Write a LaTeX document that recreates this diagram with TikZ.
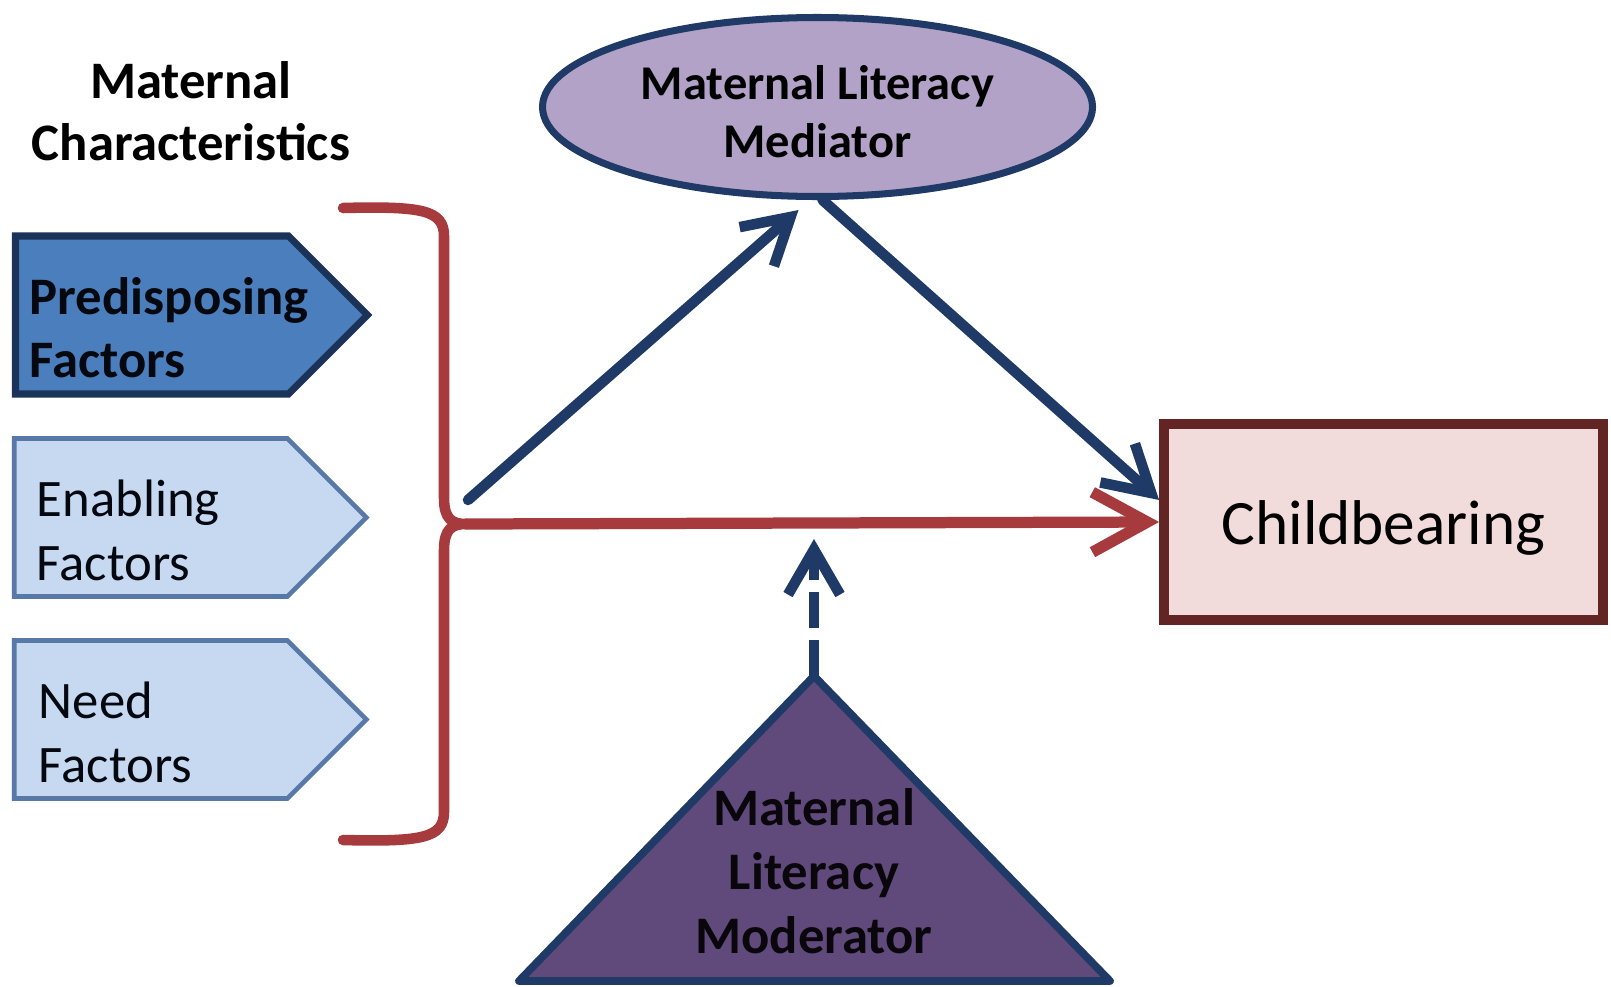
\documentclass[tikz,border=0pt]{standalone}
\usepackage{fontspec}
\setmainfont{Carlito}
\usetikzlibrary{shapes.symbols,shapes.geometric,arrows.meta}
\definecolor{navy}{HTML}{1F3A66}
\definecolor{predblue}{HTML}{4A7EBC}
\definecolor{predline}{HTML}{1B3358}
\definecolor{factblue}{HTML}{C6D9F1}
\definecolor{factline}{HTML}{5878A8}
\definecolor{bracered}{HTML}{A63A3D}
\definecolor{medpurple}{HTML}{B3A2C7}
\definecolor{modpurple}{HTML}{604A7B}
\definecolor{childpink}{HTML}{F2DCDB}
\definecolor{childline}{HTML}{632523}

\begin{document}
\begin{tikzpicture}[
  factor/.style={signal,signal to=east,signal pointer angle=90,
    minimum width=3.52cm,minimum height=1.58cm,inner sep=0pt,anchor=west},
  factortext/.style={anchor=west,align=left,inner sep=0pt,
    font=\fontsize{15}{18}\selectfont,text=black!85!navy},
  medarrow/.style={draw=navy,line width=3pt,line cap=round,
    -{Straight Barb[length=4.5mm,width=5.2mm]}}
]
\useasboundingbox (0,0) rectangle (16.11,9.86);

% The title
\node[align=center,font=\fontsize{15}{17.6}\selectfont\bfseries] (title)
  at (1.91,8.75) {Maternal\\Characteristics};

% The three factors
\node[factor,fill=predblue,draw=predline,line width=2pt] (pred) at (0.12,6.71) {};
\node[factor,fill=factblue,draw=factline,line width=1.3pt] (enab) at (0.12,4.685) {};
\node[factor,fill=factblue,draw=factline,line width=1.3pt] (need) at (0.12,2.665) {};
\node[factortext,font=\fontsize{15}{18}\selectfont\bfseries] (predtext)
  at ([xshift=0.17cm,yshift=-0.13cm]pred.west) {Predisposing\\Factors};
\node[factortext] (enabtext) at ([xshift=0.24cm,yshift=-0.13cm]enab.west) {Enabling\\Factors};
\node[factortext] (needtext) at ([xshift=0.26cm,yshift=-0.13cm]need.west) {Need\\Factors};

% The brace
\draw[bracered,line width=3pt,line cap=round]
  (3.43,7.78) .. controls (4.22,7.80) and (4.44,7.76) .. (4.44,7.50) --
  (4.44,4.88) .. controls (4.44,4.67) and (4.52,4.62) .. (4.66,4.62) coordinate (bracetip)
  .. controls (4.52,4.62) and (4.44,4.57) .. (4.44,4.36) --
  (4.44,1.74) .. controls (4.44,1.48) and (4.22,1.44) .. (3.43,1.46);

% Mediator, outcome and moderator
\node[ellipse,fill=medpurple,draw=navy,line width=2pt,minimum width=5.5cm,
  minimum height=1.79cm,inner sep=0pt] (med) at (8.175,8.79) {};
\node[align=center,font=\fontsize{13.8}{16.4}\selectfont\bfseries] (medtext)
  at (8.175,8.745) {Maternal Literacy\\Mediator};
\node[rectangle,fill=childpink,draw=childline,line width=2.8pt,minimum width=4.39cm,
  minimum height=1.96cm,text height=0.58cm,text depth=0.13cm,
  font=\fontsize{18}{21}\selectfont] (child) at (13.835,4.64) {Childbearing};
\draw[fill=modpurple,draw=navy,line width=2.2pt,line join=round]
  (5.19,0.05) coordinate (modleft) -- (8.14,3.10) coordinate (modtop) --
  (11.10,0.05) coordinate (modright) -- cycle;
\node[align=center,font=\fontsize{15}{18.2}\selectfont\bfseries,text=black!90!modpurple]
  (mod) at (8.14,1.15) {Maternal\\Literacy\\Moderator};

% The arrows
\coordinate (medfrom) at (4.68,4.86);
\coordinate (modto) at (8.14,4.47);
\draw[draw=bracered,line width=3.2pt,line cap=round,
  -{Straight Barb[length=5.5mm,width=6mm]}] (bracetip) -- (child.west);
\draw[medarrow] (medfrom) -- ([xshift=-0.19cm,yshift=-0.1cm]med.south);
\draw[medarrow] ([xshift=0.05cm]med.south) -- ([yshift=0.22cm]child.west);
\draw[medarrow,dash pattern=on 3.6mm off 1.2mm,line cap=butt] (modtop) -- (modto);

\end{tikzpicture}
\end{document}
